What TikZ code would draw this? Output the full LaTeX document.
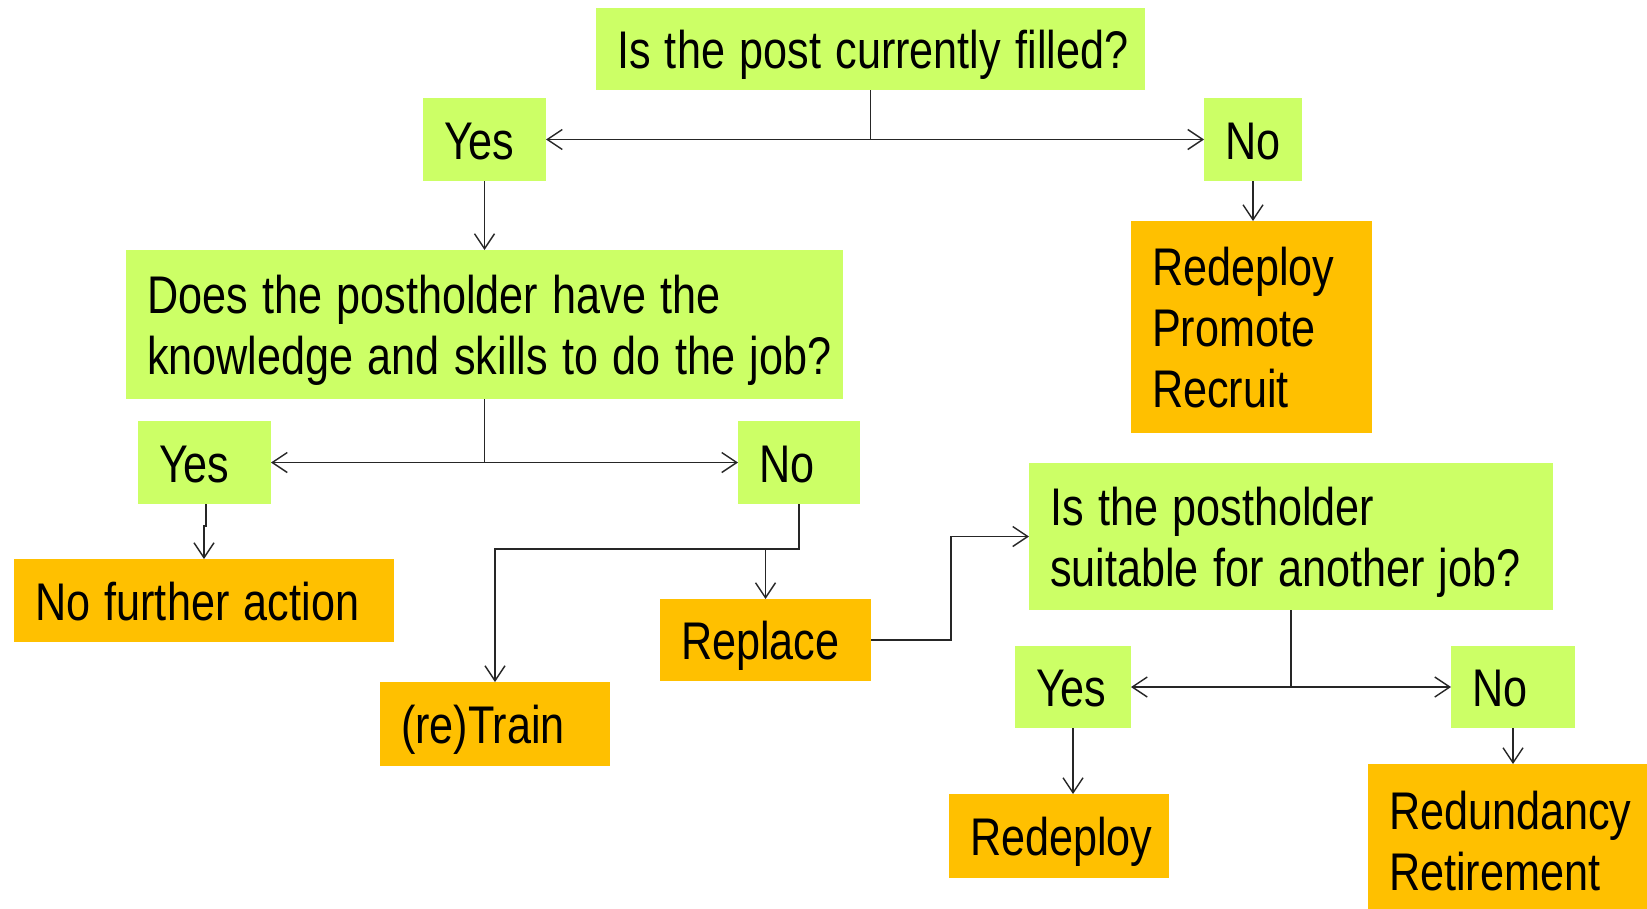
\documentclass[tikz,border=0pt]{standalone}
\usepackage{fontspec}
\usepackage{graphicx}
\setmainfont{Liberation Sans}
\usetikzlibrary{arrows.meta}
\definecolor{qgreen}{HTML}{CCFF66}
\definecolor{aorange}{HTML}{FFC000}
% condensed, left-aligned block of lines, set a little below the box centre
\newcommand{\condlines}[1]{\raisebox{-7.5pt}[\height][\depth]{\scalebox{0.815}[1]{\begin{tabular}{@{}l@{}}#1\end{tabular}}}}

\begin{document}
\begin{tikzpicture}[x=1pt,y=-1pt,
  box/.style={anchor=north west, inner xsep=21pt, inner ysep=0pt, outer sep=0pt,
    align=left, font=\fontsize{53}{61}\selectfont, text=black},
  question/.style={box, fill=qgreen},
  action/.style={box, fill=aorange},
  conn/.style={line width=1.4pt, draw=black!85},
  arr/.style={conn, -{Straight Barb[length=15pt,width=20pt,line width=1.4pt]}}]

\useasboundingbox (0,0) rectangle (1647,908);
\fill[white] (0,0) rectangle (1647,908);
\clip (0,0) rectangle (1647,908);

% first question and its answers
\node[question, text width=507pt, minimum height=82pt] (q1) at (596,8) {\condlines{Is the post currently filled?}};
\node[question, text width=81pt, minimum height=83pt] (yes1) at (423,98) {\condlines{Yes}};
\node[question, text width=56pt, minimum height=83pt] (no1) at (1204,98) {\condlines{No}};
\node[action, text width=199pt, minimum height=212pt] (act1) at (1131,221) {\condlines{Redeploy\\Promote\\Recruit}};

% second question
\node[question, text width=675pt, minimum height=149pt] (q2) at (126,250) {\condlines{Does the postholder have the\\knowledge and skills to do the job?}};
\node[question, text width=91pt, minimum height=83pt] (yes2) at (138,421) {\condlines{Yes}};
\node[question, text width=80pt, minimum height=83pt] (no2) at (738,421) {\condlines{No}};
\node[action, text width=338pt, minimum height=83pt] (nfa) at (14,559) {\condlines{No further action}};
\node[action, text width=169pt, minimum height=82pt] (rep) at (660,599) {\condlines{Replace}};
\node[action, text width=188pt, minimum height=84pt] (train) at (380,682) {\condlines{(re)Train}};

% third question
\node[question, text width=482pt, minimum height=147pt] (q3) at (1029,463) {\condlines{Is the postholder\\suitable for another job?}};
\node[question, text width=74pt, minimum height=82pt] (yes3) at (1015,646) {\condlines{Yes}};
\node[question, text width=82pt, minimum height=82pt] (no3) at (1451,646) {\condlines{No}};
\node[action, text width=178pt, minimum height=84pt] (rd) at (949,794) {\condlines{Redeploy}};
\node[action, text width=258pt, minimum height=152pt] (rr) at (1368,764) {\condlines{Redundancy\\Retirement}};

% junction points of the branching connectors
\coordinate (j1) at (q1.south |- yes1.east);
\coordinate (j2) at (q2.south |- yes2.east);
\coordinate (j3) at (q3.south |- yes3.east);
\coordinate (j4) at ([yshift=50pt]rep.north);

% connectors of the first question
\draw[conn] (q1.south) -- (j1);
\draw[arr] (j1) -- (yes1.east);
\draw[arr] (j1) -- (no1.west);
\draw[arr] (yes1.south) -- (q2.north);
\draw[arr] (no1.south) -- (no1.south |- act1.north);

% connectors of the second question
\draw[conn] (q2.south) -- (j2);
\draw[arr] (j2) -- (yes2.east);
\draw[arr] (j2) -- (no2.west);
\draw[arr] ([xshift=1.5pt]yes2.south) -- ++(0,22) -| (nfa.north);
\draw[conn] (no2.south) |- (j4);
\draw[arr] (j4) -- (rep.north);
\draw[arr] (j4) -| (train.north);
\draw[arr] (rep.east) -- ++(80,0) |- (q3.west);

% connectors of the third question
\draw[conn] (q3.south) -- (j3);
\draw[arr] (j3) -- (yes3.east);
\draw[arr] (j3) -- (no3.west);
\draw[arr] (yes3.south) -- (yes3.south |- rd.north);
\draw[arr] (no3.south) -- (no3.south |- rr.north);

\end{tikzpicture}
\end{document}
